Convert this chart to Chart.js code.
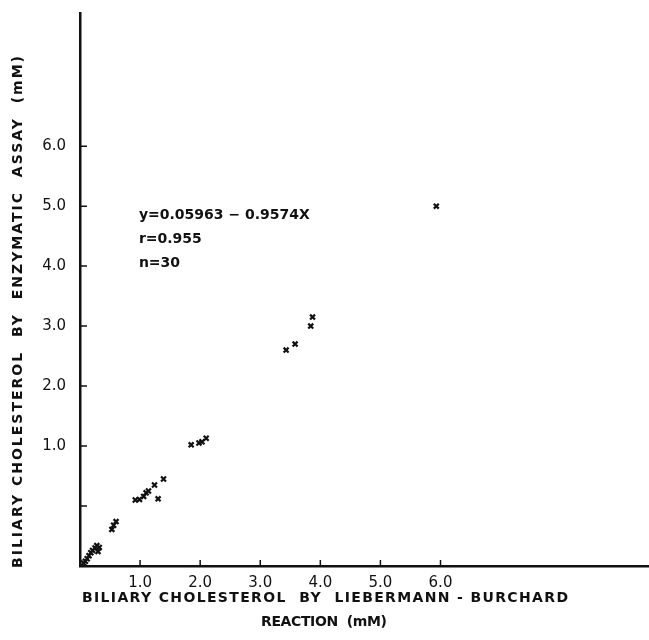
<!DOCTYPE html>
<html>
<head>
<meta charset="utf-8">
<script src="https://cdn.jsdelivr.net/npm/chart.js@4/dist/chart.umd.min.js"></script>
<style>
  html, body { margin: 0; padding: 0; background: #fff; }
  #plot { display: block; }
</style>
</head>
<body>
<canvas id="plot" width="649" height="640"></canvas>
<script>
  /* ===== Data ===== */
  // Liebermann-Burchard reaction (mM)
  const X_VALUES = [
    0.06, 0.09, 0.12, 0.15, 0.18, 0.21, 0.25, 0.28, 0.30, 0.32,
    0.53, 0.56, 0.60,
    0.92, 0.99, 1.06, 1.10, 1.14, 1.24, 1.30, 1.39,
    1.85, 1.98, 2.03, 2.10,
    3.43, 3.58, 3.84, 3.87,
    5.93
  ];
  // Enzymatic assay (mM)
  const Y_VALUES = [
    0.05, 0.08, 0.12, 0.17, 0.22, 0.26, 0.30, 0.34, 0.24, 0.31,
    0.61, 0.68, 0.74,
    1.10, 1.11, 1.16, 1.22, 1.25, 1.35, 1.12, 1.45,
    2.02, 2.05, 2.07, 2.13,
    3.60, 3.70, 4.00, 4.15,
    6.00
  ];

  const X_TICK_VALUES = [1, 2, 3, 4, 5, 6];
  const X_TICK_LABELS = ['1.0', '2.0', '3.0', '4.0', '5.0', '6.0'];
  // the printed y labels sit one tick above their value, as in the original
  const Y_TICK_VALUES = [1, 2, 3, 4, 5, 6, 7];
  const Y_TICK_LABELS = ['', '1.0', '2.0', '3.0', '4.0', '5.0', '6.0'];

  const X_TITLE = ['BILIARY CHOLESTEROL  BY  LIEBERMANN - BURCHARD', 'REACTION  (mM)'];
  const Y_TITLE = 'BILIARY CHOLESTEROL  BY  ENZYMATIC  ASSAY  (mM)';
  const STATS_LINES = ['y=0.05963 \u2212 0.9574X', 'r=0.955', 'n=30'];

  /* ===== Helpers ===== */
  const INK = '#111';
  const FONT = '"DejaVu Sans", "Liberation Sans", sans-serif';

  // draws text centred on (cx, cy), stretched with letter spacing to a given width
  function drawFitted(ctx, text, cx, cy, width, font) {
    ctx.save();
    ctx.font = font;
    ctx.letterSpacing = '0px';
    const natural = ctx.measureText(text).width;
    const gap = (width - natural) / Math.max(1, text.length - 1);
    ctx.letterSpacing = gap + 'px';
    ctx.textAlign = 'left';
    ctx.textBaseline = 'middle';
    ctx.fillText(text, cx - width / 2, cy);
    ctx.restore();
  }

  /* ===== Plugins ===== */
  const innerTicks = {
    id: 'innerTicks',
    afterDatasetsDraw(chart) {
      const { ctx, scales: { x, y } } = chart;
      ctx.save();
      ctx.strokeStyle = INK;
      ctx.lineWidth = 1.5;
      ctx.beginPath();
      X_TICK_VALUES.forEach(v => {
        const px = x.getPixelForValue(v);
        ctx.moveTo(px, y.bottom);
        ctx.lineTo(px, y.bottom - 6);
      });
      Y_TICK_VALUES.forEach(v => {
        const py = y.getPixelForValue(v);
        ctx.moveTo(x.left, py);
        ctx.lineTo(x.left + 7, py);
      });
      ctx.stroke();
      ctx.restore();
    }
  };

  const textLayer = {
    id: 'textLayer',
    afterDraw(chart) {
      const { ctx, scales: { x, y } } = chart;
      ctx.save();
      ctx.fillStyle = INK;

      // axis titles
      drawFitted(ctx, X_TITLE[0], 325, 598, 486, 'bold 14px ' + FONT);
      drawFitted(ctx, X_TITLE[1], 324, 622, 126, 'bold 14px ' + FONT);

      ctx.save();
      ctx.translate(18, 312);
      ctx.rotate(-Math.PI / 2);
      drawFitted(ctx, Y_TITLE, 0, 0, 512, 'bold 14px ' + FONT);
      ctx.restore();

      // regression statistics
      ctx.font = 'bold 14px ' + FONT;
      ctx.textAlign = 'left';
      ctx.textBaseline = 'middle';
      const left = x.getPixelForValue(0.98);
      const top = y.getPixelForValue(5.85);
      STATS_LINES.forEach((line, i) => {
        ctx.fillText(line, left, top + i * 24);
      });
      ctx.restore();
    }
  };

  /* ===== Chart ===== */
  const points = X_VALUES.map((v, i) => ({ x: v, y: Y_VALUES[i] }));

  new Chart(document.getElementById('plot'), {
    type: 'scatter',
    data: {
      datasets: [{
        data: points,
        pointStyle: 'crossRot',
        pointRadius: 3.5,
        pointBorderWidth: 2.2,
        borderColor: INK,
        backgroundColor: INK
      }]
    },
    options: {
      responsive: false,
      animation: false,
      layout: { autoPadding: false, padding: { top: 13, right: 0, left: 0, bottom: 0 } },
      plugins: {
        legend: { display: false },
        tooltip: { enabled: false }
      },
      scales: {
        x: {
          type: 'linear',
          min: 0,
          max: 9.47,
          afterBuildTicks: s => { s.ticks = X_TICK_VALUES.map(v => ({ value: v })); },
          afterFit: s => { s.height = 74; s.paddingLeft = 0; s.paddingRight = 0; },
          grid: { display: true, drawOnChartArea: false, drawTicks: false },
          border: { display: true, color: INK, width: 2.5 },
          ticks: {
            padding: 8,
            color: INK,
            font: { family: FONT, size: 15 },
            callback: (v, i) => X_TICK_LABELS[i]
          }
        },
        y: {
          type: 'linear',
          min: 0,
          max: 9.22,
          afterBuildTicks: s => { s.ticks = Y_TICK_VALUES.map(v => ({ value: v })); },
          afterFit: s => { s.width = 80; s.paddingTop = 0; s.paddingBottom = 0; },
          grid: { display: true, drawOnChartArea: false, drawTicks: false },
          border: { display: true, color: INK, width: 2.5 },
          ticks: {
            padding: 14,
            color: INK,
            font: { family: FONT, size: 15 },
            callback: (v, i) => Y_TICK_LABELS[i]
          }
        }
      }
    },
    plugins: [innerTicks, textLayer]
  });
</script>
</body>
</html>
